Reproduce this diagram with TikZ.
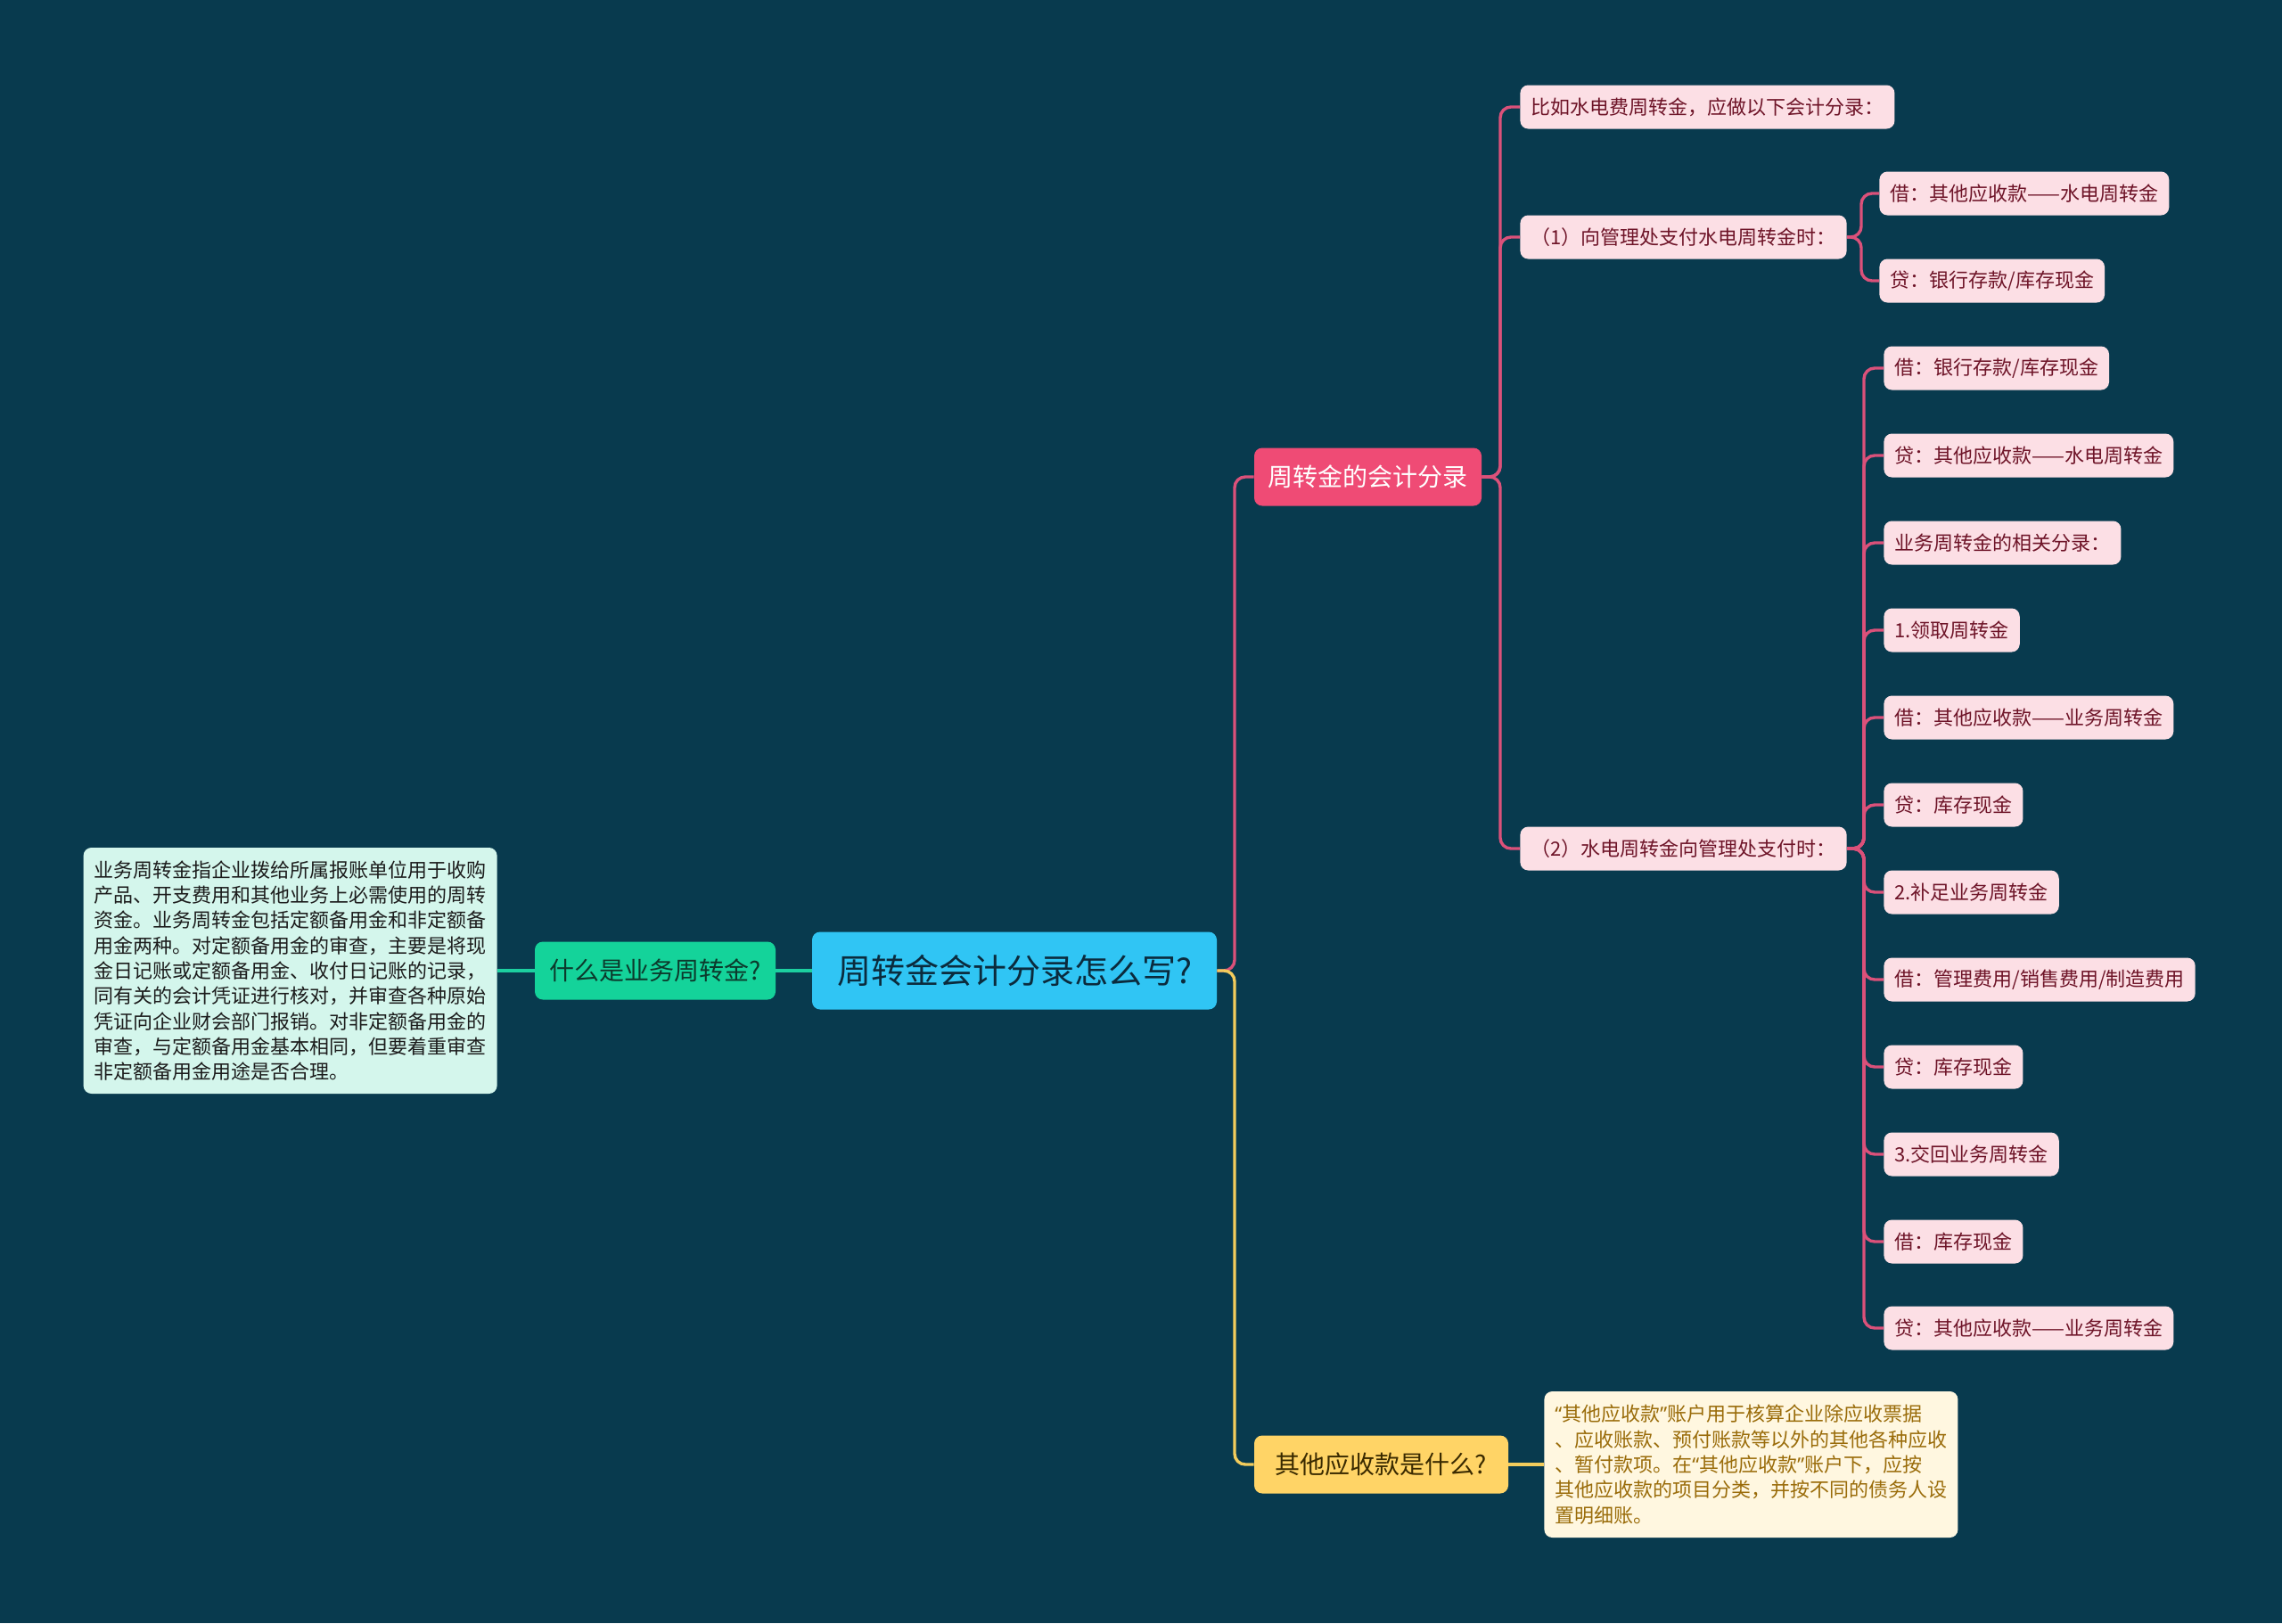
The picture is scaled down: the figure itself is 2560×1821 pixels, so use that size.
\documentclass[tikz,border=0pt]{standalone}
\usepackage{fontspec}
\newfontfamily\cjk{Noto Sans CJK SC}
\newfontfamily\latinq{Noto Sans}
\newcommand\myopenq{{\latinq “}}
\newcommand\myshutq{{\latinq ”}}
\definecolor{bg}{HTML}{083A4E}
\definecolor{rootfill}{HTML}{30C5F4}
\definecolor{roottext}{HTML}{0B2B3D}
\definecolor{greenfill}{HTML}{14D39A}
\definecolor{greenline}{HTML}{1CCFA0}
\definecolor{greentext}{HTML}{0C3A2C}
\definecolor{mintfill}{HTML}{D4F6EC}
\definecolor{minttext}{HTML}{1C1C1C}
\definecolor{pinkfill}{HTML}{EF4B75}
\definecolor{pinkline}{HTML}{DB517A}
\definecolor{leaffill}{HTML}{FCDFE5}
\definecolor{leaftext}{HTML}{6E1428}
\definecolor{yellowfill}{HTML}{FFD466}
\definecolor{yellowline}{HTML}{F3CC5C}
\definecolor{yellowtext}{HTML}{3A2A00}
\definecolor{creamfill}{HTML}{FFF7E0}
\definecolor{creamtext}{HTML}{9A6C0A}
\tikzset{
  base/.style={rounded corners=4.5pt, font=\cjk, inner ysep=0pt},
  rootbox/.style={base, fill=rootfill, text=roottext, font=\cjk\fontsize{19}{23}\selectfont,
     minimum width=227pt, minimum height=43.5pt},
  mainbox/.style={base, font=\cjk\fontsize{14}{17}\selectfont, minimum height=32.5pt},
  leafbox/.style={base, fill=leaffill, text=leaftext, font=\cjk\fontsize{11}{13}\selectfont,
     anchor=west, inner xsep=6pt, minimum height=24.5pt},
  notebox/.style={rounded corners=4.5pt, font=\cjk\fontsize{11}{14.15}\selectfont, align=left,
     inner xsep=6pt, inner ysep=5pt},
  pinkconn/.style={draw=pinkline, line width=1.7pt, rounded corners=6pt},
  yellowconn/.style={draw=yellowline, line width=1.7pt, rounded corners=6pt},
  greenconn/.style={draw=greenline, line width=1.7pt},
}
\begin{document}
\begin{tikzpicture}[x=0.5pt, y=-0.5pt]
\fill[bg] (0,0) rectangle (2560,1821);
\useasboundingbox (0,0) rectangle (2560,1821);

% main nodes
\node[rootbox] (root) at (1138,1089) {周转金会计分录怎么写?};
\node[mainbox, fill=greenfill, text=greentext, minimum width=135pt] (what) at (735,1089) {什么是业务周转金?};
\node[notebox, fill=mintfill, text=minttext, anchor=east, minimum height=138pt] (whatnote) at (558,1089) {业务周转金指企业拨给所属报账单位用于收购\\产品、开支费用和其他业务上必需使用的周转\\资金。业务周转金包括定额备用金和非定额备\\用金两种。对定额备用金的审查，主要是将现\\金日记账或定额备用金、收付日记账的记录，\\同有关的会计凭证进行核对，并审查各种原始\\凭证向企业财会部门报销。对非定额备用金的\\审查，与定额备用金基本相同，但要着重审查\\非定额备用金用途是否合理。};
\node[mainbox, fill=pinkfill, text=white, minimum width=127.5pt] (entry) at (1534.5,535) {周转金的会计分录};
\node[mainbox, fill=yellowfill, text=yellowtext, minimum width=142.5pt] (other) at (1549.5,1643) {其他应收款是什么?};
\node[notebox, fill=creamfill, text=creamtext, anchor=west, minimum width=232pt, minimum height=82pt] (othernote) at (1732,1643) {\myopenq 其他应收款\myshutq 账户用于核算企业除应收票据\\、应收账款、预付账款等以外的其他各种应收\\、暂付款项。在\myopenq 其他应收款\myshutq 账户下，应按\\其他应收款的项目分类，并按不同的债务人设\\置明细账。};

% level 2
\node[leafbox] (ea) at (1705,120) {比如水电费周转金，应做以下会计分录：};
\node[leafbox] (eb) at (1705,266) {（1）向管理处支付水电周转金时：};
\node[leafbox] (ec) at (1705,952) {（2）水电周转金向管理处支付时：};

% level 3 under (1)
\node[leafbox] (b1) at (2108,217) {借：其他应收款——水电周转金};
\node[leafbox] (b2) at (2108,315) {贷：银行存款/库存现金};

% level 3 under (2)
\node[leafbox] (c1) at (2113,413) {借：银行存款/库存现金};
\node[leafbox] (c2) at (2113,511) {贷：其他应收款——水电周转金};
\node[leafbox] (c3) at (2113,609) {业务周转金的相关分录：};
\node[leafbox] (c4) at (2113,707) {1.领取周转金};
\node[leafbox] (c5) at (2113,805) {借：其他应收款——业务周转金};
\node[leafbox] (c6) at (2113,903) {贷：库存现金};
\node[leafbox] (c7) at (2113,1001) {2.补足业务周转金};
\node[leafbox] (c8) at (2113,1099) {借：管理费用/销售费用/制造费用};
\node[leafbox] (c9) at (2113,1197) {贷：库存现金};
\node[leafbox] (c10) at (2113,1295) {3.交回业务周转金};
\node[leafbox] (c11) at (2113,1393) {借：库存现金};
\node[leafbox] (c12) at (2113,1490) {贷：其他应收款——业务周转金};

% connectors
\draw[greenconn] (root.west) -- (what.east);
\draw[greenconn] (what.west) -- (whatnote.east);
\draw[pinkconn] (root.east) -- (1385,1089) |- (entry.west);
\draw[yellowconn] (root.east) -- (1385,1089) |- (other.west);
\draw[yellowconn] (other.east) -- (othernote.west);
\foreach \n in {ea,eb,ec}{
  \draw[pinkconn] (entry.east) -- (1683,535) |- (\n.west);
}
\foreach \n in {b1,b2}{
  \draw[pinkconn] (eb.east) -- (2088,266) |- (\n.west);
}
\foreach \n in {c1,c2,c3,c4,c5,c6,c7,c8,c9,c10,c11,c12}{
  \draw[pinkconn] (ec.east) -- (2091,952) |- (\n.west);
}
\end{tikzpicture}
\end{document}
